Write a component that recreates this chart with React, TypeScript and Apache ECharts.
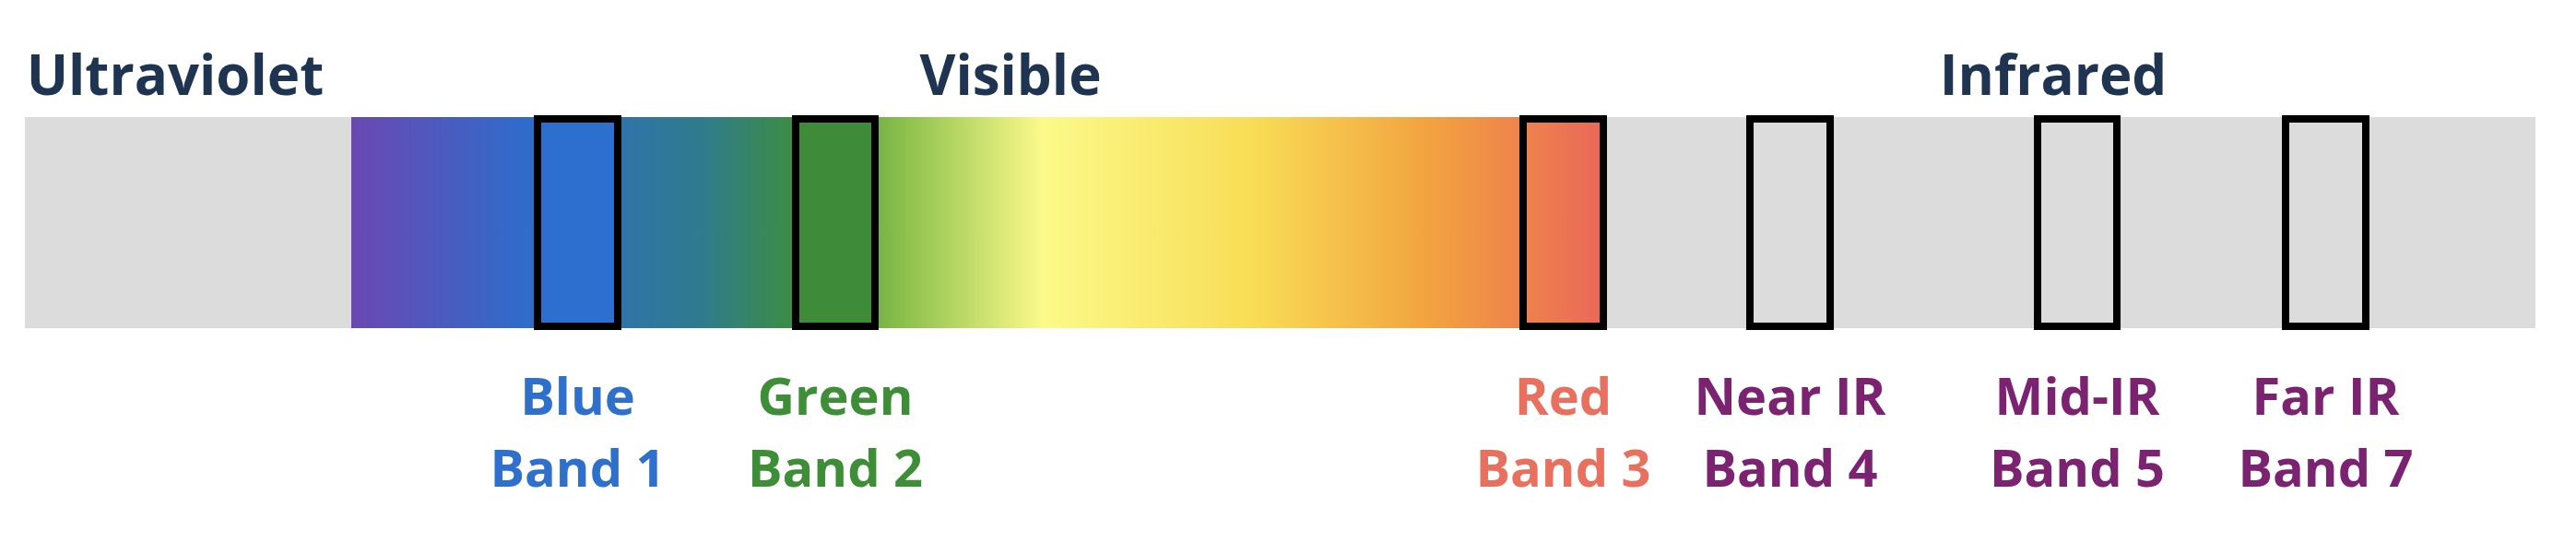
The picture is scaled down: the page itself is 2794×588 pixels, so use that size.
import { useEffect, useRef } from "react"
import * as echarts from "echarts"

const spectrumBar = { start: 27, end: 2750, top: 127, bottom: 356 }
const visibleRange = [381, 1743]
const gradientStops = [
  { offset: 0, color: "#6a48b2" },
  { offset: 0.14, color: "#2f6ccb" },
  { offset: 0.28, color: "#2f7b8c" },
  { offset: 0.36, color: "#3e8f3c" },
  { offset: 0.44, color: "#8cc04c" },
  { offset: 0.55, color: "#fbfa8a" },
  { offset: 0.72, color: "#f8dc55" },
  { offset: 0.86, color: "#f2a240" },
  { offset: 1, color: "#ea6658" },
]
const bandNames = ["Blue", "Green", "Red", "Near IR", "Mid-IR", "Far IR"]
const bandNumbers = ["Band 1", "Band 2", "Band 3", "Band 4", "Band 5", "Band 7"]
const bandStart = [579, 859, 1648, 1894, 2206, 2475]
const bandEnd = [674, 953, 1743, 1989, 2300, 2570]
const bandFill = ["#2c6fcf", "#3e8c3a", "", "", "", ""]
const bandTextColor = ["#2e70cc", "#3e8e38", "#e8705e", "#7b2370", "#7b2370", "#7b2370"]
const regionNames = ["Ultraviolet", "Visible", "Infrared"]
const regionCenters = [190, 1096, 2227]

const FONT = "'Open Sans', 'Noto Sans', sans-serif"

export default function App() {
  const chartRef = useRef<HTMLDivElement>(null)

  useEffect(() => {
    document.body.style.margin = "0"
    if (!chartRef.current) return
    const chart = echarts.init(chartRef.current, null, { renderer: "svg" })

    const option: any = {
      animation: false,
      grid: { left: 0, right: 0, top: 0, bottom: 0 },
      xAxis: { type: "value", min: 0, max: 2794, show: false },
      yAxis: { type: "value", min: 0, max: 588, inverse: true, show: false },
      series: [
        {
          type: "custom",
          data: [0],
          renderItem: (_p: any, api: any) => {
            const a = api.coord([spectrumBar.start, spectrumBar.top])
            const b = api.coord([spectrumBar.end, spectrumBar.bottom])
            const g1 = api.coord([visibleRange[0], spectrumBar.top])
            const g2 = api.coord([visibleRange[1], spectrumBar.bottom])
            const children: any[] = [
              { type: "rect", shape: { x: a[0], y: a[1], width: b[0] - a[0], height: b[1] - a[1] }, style: { fill: "#dcdcdc" } },
              {
                type: "rect",
                shape: { x: g1[0], y: g1[1], width: g2[0] - g1[0], height: g2[1] - g1[1] },
                style: { fill: new echarts.graphic.LinearGradient(0, 0, 1, 0, gradientStops) },
              },
            ]
            regionNames.forEach((name, i) => {
              const p = api.coord([regionCenters[i], 80])
              children.push({
                type: "text",
                x: p[0],
                y: p[1],
                style: { text: name, fill: "#1e3450", font: `bold 60px ${FONT}`, align: "center", verticalAlign: "middle" },
              })
            })
            return { type: "group", children }
          },
        },
        {
          type: "custom",
          data: bandNames.map((_, i) => [bandStart[i], bandEnd[i]]),
          renderItem: (p: any, api: any) => {
            const i = p.dataIndex
            const s = api.coord([api.value(0), spectrumBar.top])
            const e = api.coord([api.value(1), spectrumBar.bottom])
            const cx = (s[0] + e[0]) / 2
            const l1 = api.coord([0, 428])
            const l2 = api.coord([0, 506])
            return {
              type: "group",
              children: [
                {
                  type: "rect",
                  shape: { x: s[0] + 4, y: s[1] + 2, width: e[0] - s[0] - 8, height: e[1] - s[1] - 4 },
                  style: { fill: bandFill[i] || "transparent", stroke: "#000", lineWidth: 8 },
                },
                {
                  type: "text",
                  x: cx,
                  y: l1[1],
                  style: { text: bandNames[i], fill: bandTextColor[i], font: `bold 56px ${FONT}`, align: "center", verticalAlign: "middle" },
                },
                {
                  type: "text",
                  x: cx,
                  y: l2[1],
                  style: { text: bandNumbers[i], fill: bandTextColor[i], font: `bold 56px ${FONT}`, align: "center", verticalAlign: "middle" },
                },
              ],
            }
          },
        },
      ],
    }

    chart.setOption(option)
    return () => chart.dispose()
  }, [])

  return <div ref={chartRef} style={{ width: 2794, height: 588, background: "#fff" }} />
}
